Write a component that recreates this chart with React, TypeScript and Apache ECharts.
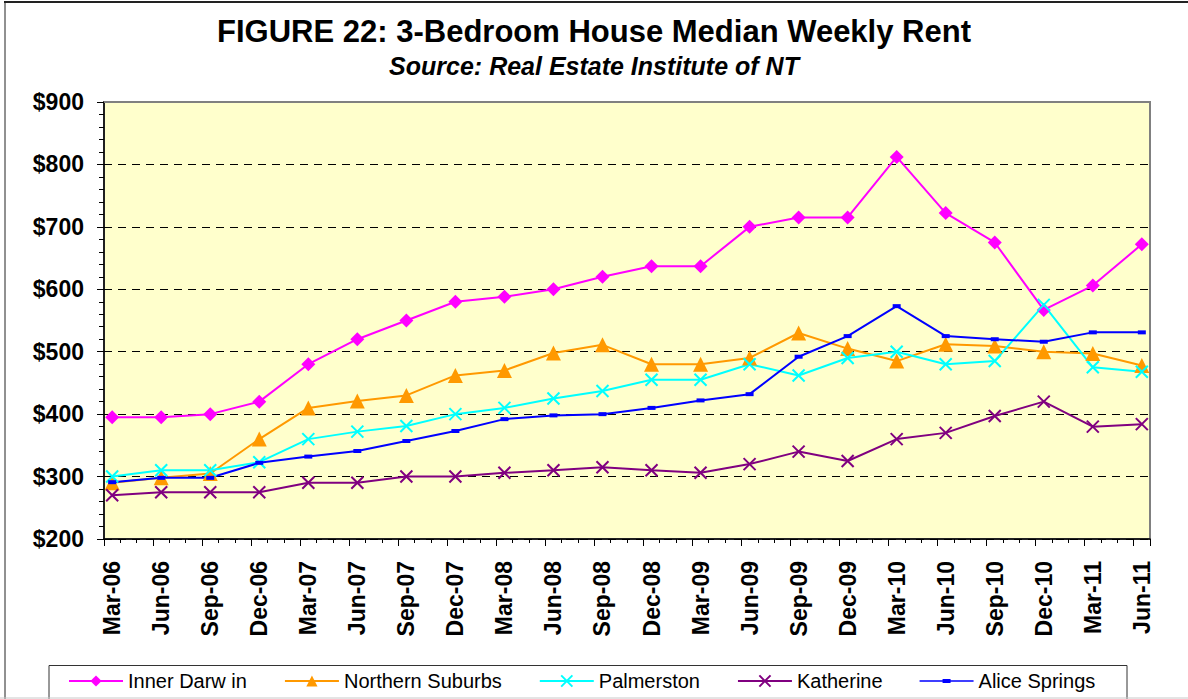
import React, { useEffect, useRef } from "react";
import * as echarts from "echarts";

const quarters = [
  "Mar-06", "Jun-06", "Sep-06", "Dec-06", "Mar-07", "Jun-07", "Sep-07", "Dec-07",
  "Mar-08", "Jun-08", "Sep-08", "Dec-08", "Mar-09", "Jun-09", "Sep-09", "Dec-09",
  "Mar-10", "Jun-10", "Sep-10", "Dec-10", "Mar-11", "Jun-11",
];

const innerDarwin = [395, 395, 400, 420, 480, 520, 550, 580, 588, 600, 620, 637, 637, 700, 715, 715, 812, 722, 675, 567, 606, 672];
const northernSuburbs = [290, 298, 305, 360, 410, 421, 430, 462, 470, 498, 511, 480, 480, 490, 530, 505, 485, 512, 509, 500, 497, 478];
const palmerston = [300, 310, 310, 323, 360, 372, 381, 400, 410, 425, 437, 455, 455, 480, 462, 490, 500, 480, 485, 575, 475, 468];
const katherine = [270, 275, 275, 275, 290, 290, 300, 300, 306, 310, 315, 310, 306, 320, 340, 325, 360, 370, 397, 420, 380, 384];
const aliceSprings = [291, 298, 298, 322, 332, 341, 357, 373, 392, 398, 400, 410, 422, 432, 492, 525, 573, 525, 520, 516, 531, 531];

const seriesNames = ["Inner Darw in", "Northern Suburbs", "Palmerston", "Katherine", "Alice Springs"];

const yMin = 200;
const yMax = 900;
const yStep = 100;

const FONT = "'Liberation Sans', Arial, sans-serif";
const W = 1188;
const H = 699;
const GRID = { left: 104, right: 38, top: 102, bottom: 160 };

// monthly slots: each quarter label followed by two unlabeled months
const months: string[] = [];
quarters.forEach((q, i) => {
  months.push(q);
  if (i < quarters.length - 1) {
    months.push(q + " +1");
    months.push(q + " +2");
  }
});

const toPairs = (vals: number[]) => vals.map((v, i) => [i * 3, v]);

const X_SYMBOL = "path://M0,0L10,10M10,0L0,10";
const DASH_LEGEND_ICON = "path://M0,1.2H54V2.8H0Z M23,0H31V4H23Z";

export default function App() {
  const ref = useRef<HTMLDivElement>(null);

  useEffect(() => {
    if (!ref.current) return;
    const chart = echarts.init(ref.current, null, { renderer: "svg" });

    const mk = (
      name: string,
      data: number[],
      color: string,
      symbol: string,
      symbolSize: number | number[],
      stroke: boolean
    ) => ({
      name,
      type: "line",
      data: toPairs(data),
      xAxisIndex: 0,
      symbol,
      symbolSize,
      showSymbol: true,
      lineStyle: { color, width: 2 },
      itemStyle: stroke
        ? { color, borderColor: color, borderWidth: 2 }
        : { color, borderWidth: 0 },
      emphasis: { disabled: true },
      z: 3,
    });

    chart.setOption({
      animation: false,
      backgroundColor: "#ffffff",
      title: [
        {
          text: "FIGURE 22: 3-Bedroom House Median Weekly Rent",
          left: "center",
          top: 11,
          textStyle: { fontFamily: FONT, fontSize: 31, fontWeight: "bold", color: "#000" },
        },
        {
          text: "Source: Real Estate Institute of NT",
          left: "center",
          top: 48,
          textStyle: { fontFamily: FONT, fontSize: 25, fontWeight: "bold", fontStyle: "italic", color: "#000" },
        },
      ],
      grid: {
        ...GRID,
        show: true,
        backgroundColor: "#FFFFCC",
        borderColor: "#808080",
        borderWidth: 2,
        containLabel: false,
      },
      legend: {
        data: [
          { name: seriesNames[0] },
          { name: seriesNames[1] },
          { name: seriesNames[2] },
          { name: seriesNames[3] },
          { name: seriesNames[4], icon: DASH_LEGEND_ICON, symbolKeepAspect: true },
        ],
        left: 68,
        top: 671,
        padding: 0,
        itemWidth: 54,
        itemHeight: 14,
        itemGap: 37,
        textStyle: { fontFamily: FONT, fontSize: 20, color: "#000", padding: [0, 0, 0, 0] },
        selectedMode: false,
      },
      xAxis: [
        {
          type: "category",
          data: months,
          boundaryGap: true,
          position: "bottom",
          axisLine: { show: true, lineStyle: { color: "#000", width: 1.5 } },
          axisTick: { show: true, interval: 2, length: 7, lineStyle: { color: "#000", width: 1 } },
          axisLabel: {
            interval: 2,
            rotate: 90,
            margin: 22,
            fontFamily: FONT,
            fontSize: 23,
            fontWeight: "bold",
            color: "#000",
          },
          splitLine: { show: false },
        },
        {
          type: "category",
          data: months,
          boundaryGap: true,
          position: "bottom",
          axisLine: { show: false },
          axisTick: { show: true, interval: 0, length: 4, lineStyle: { color: "#000", width: 1 } },
          axisLabel: { show: false },
          splitLine: { show: false },
        },
      ],
      yAxis: {
        type: "value",
        min: yMin,
        max: yMax,
        interval: yStep,
        axisLine: { show: true, lineStyle: { color: "#000", width: 1.5 } },
        axisTick: { show: true, inside: false, length: 7, lineStyle: { color: "#000", width: 1 } },
        minorTick: { show: true, splitNumber: 5, length: 5, lineStyle: { color: "#000", width: 1 } },
        axisLabel: {
          formatter: (v: number) => "$" + v,
          margin: 20,
          fontFamily: FONT,
          fontSize: 23,
          fontWeight: "bold",
          color: "#000",
        },
        splitLine: { show: true, lineStyle: { color: "#000", width: 1, type: [8, 6] } },
      },
      graphic: [
        {
          type: "line",
          z: 50,
          shape: { x1: GRID.left, y1: GRID.top, x2: W - GRID.right, y2: GRID.top },
          style: { stroke: "#808080", lineWidth: 2 },
        },
        {
          type: "line",
          z: 50,
          shape: { x1: 4, y1: 2, x2: W, y2: 2 },
          style: { stroke: "#222", lineWidth: 2 },
        },
        {
          type: "line",
          z: 50,
          shape: { x1: 5, y1: 2, x2: 5, y2: H },
          style: { stroke: "#222", lineWidth: 1 },
        },
        {
          type: "rect",
          z: 1,
          shape: { x: 49, y: 665.5, width: 1078, height: 60 },
          style: { fill: "none", stroke: "#333", lineWidth: 1 },
        },
        {
          type: "line",
          z: 50,
          shape: { x1: 0, y1: 698, x2: W, y2: 698 },
          style: { stroke: "#c8c8c8", lineWidth: 1 },
        },
      ],
      series: [
        mk(seriesNames[0], innerDarwin, "#FF00FF", "diamond", 14, false),
        mk(seriesNames[1], northernSuburbs, "#FF9900", "triangle", 15, false),
        mk(seriesNames[2], palmerston, "#00FFFF", X_SYMBOL, 12, true),
        mk(seriesNames[3], katherine, "#800080", X_SYMBOL, 12, true),
        mk(seriesNames[4], aliceSprings, "#0000FF", "rect", [8, 4], false),
      ],
    });

    return () => chart.dispose();
  }, []);

  return (
    <div
      ref={ref}
      style={{ position: "fixed", left: 0, top: 0, width: W, height: H, background: "#fff" }}
    />
  );
}
